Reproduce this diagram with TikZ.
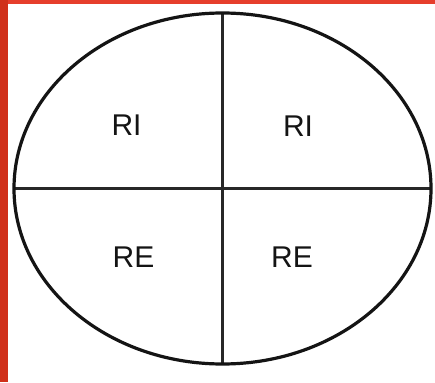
\documentclass[tikz,border=0pt]{standalone}
\usepackage{fontspec}
\setmainfont{Liberation Sans}
\definecolor{redL}{RGB}{208,48,26}
\definecolor{redT}{RGB}{230,62,44}
\definecolor{divline}{RGB}{40,40,40}
\begin{document}
\begin{tikzpicture}[x=1pt,y=-1pt,
  outline/.style={line width=3.2pt,black!92},
  divider/.style={line width=2.2pt,divline},
  lbl/.style={font=\fontsize{30}{30}\selectfont,text=black!92,inner sep=0pt}]
\useasboundingbox (0,0) rectangle (435,382);
\fill[white] (0,0) rectangle (435,382);
\fill[redT] (0,0) rectangle (435,4);
\fill[redL] (0,0) rectangle (8,382);
\coordinate (c) at (222.5,188.5);
\coordinate (top) at (222.5,13);
\coordinate (bot) at (222.5,364);
\coordinate (lft) at (14,188.5);
\coordinate (rgt) at (431,188.5);
\draw[divider] (top) -- (bot);
\draw[divider] (lft) -- (rgt);
\draw[outline] (c) ellipse [x radius=208.5, y radius=175.5];
\node[lbl] (ri1) at (126.5,125.5) {RI};
\node[lbl] (ri2) at (298,126) {RI};
\node[lbl] (re1) at (133.5,257) {RE};
\node[lbl] (re2) at (292,257) {RE};
\end{tikzpicture}
\end{document}
